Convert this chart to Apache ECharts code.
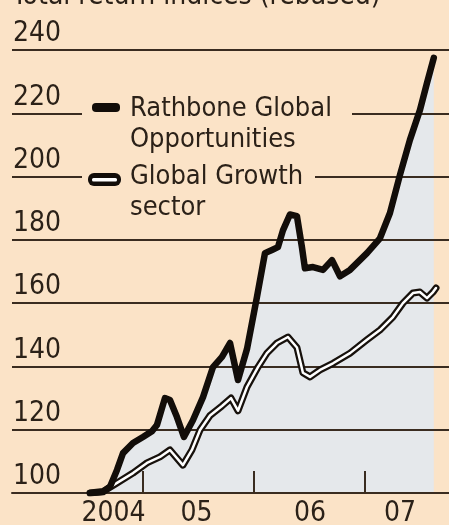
<!DOCTYPE html>
<html>
<head>
<meta charset="utf-8">
<script src="https://cdn.jsdelivr.net/npm/echarts@6/dist/echarts.min.js"></script>
<style>
html,body{margin:0;padding:0;background:#fbe3c7;}
#c{width:449px;height:525px;}
</style>
</head>
<body>
<div id="c"></div>
<script>
// ---- data ----
var titleText = 'Total return indices (rebased)';
var seriesNames = ['Rathbone Global\nOpportunities', 'Global Growth\nsector'];

var rathboneYears = [2004.523, 2004.640, 2004.703, 2004.766, 2004.820, 2004.910, 2005.000, 2005.081, 2005.126, 2005.198,
  2005.243, 2005.306, 2005.369, 2005.450, 2005.541, 2005.631, 2005.712, 2005.784, 2005.856, 2005.937,
  2006.027, 2006.099, 2006.162, 2006.216, 2006.261, 2006.324, 2006.387, 2006.432, 2006.459, 2006.532,
  2006.622, 2006.703, 2006.775, 2006.865, 2007.018, 2007.135, 2007.225, 2007.315, 2007.405, 2007.495,
  2007.559, 2007.620];
var rathboneValues = [100, 100.3, 102, 107.3, 112.6, 115.8, 117.7, 119.5, 121.5, 130,
  129.4, 124, 117.7, 123, 130.3, 139.8, 143, 147.4, 135.7, 145.5,
  162, 175.8, 176.8, 177.7, 183, 188, 187.5, 177.7, 171, 171.4,
  170.5, 173.6, 168.5, 170.5, 175.8, 180.5, 188.5, 200.5, 211.6, 221,
  229.6, 237.5];

var sectorYears = [2004.523, 2004.640, 2004.748, 2004.910, 2005.036, 2005.153, 2005.243, 2005.360, 2005.441, 2005.514,
  2005.604, 2005.712, 2005.793, 2005.856, 2005.937, 2006.036, 2006.117, 2006.207, 2006.306, 2006.387,
  2006.441, 2006.505, 2006.595, 2006.712, 2006.865, 2007.018, 2007.135, 2007.252, 2007.342, 2007.432,
  2007.495, 2007.559, 2007.613, 2007.640];
var sectorValues = [100, 100.5, 102.8, 106.3, 109.5, 111.4, 113.6, 108.8, 113.6, 119.9,
  124.5, 127.5, 130, 126, 133.5, 139.8, 144.2, 147.4, 149.3, 146,
  138, 136.7, 138.9, 141, 144.2, 148.4, 151.5, 155.6, 160, 163.2,
  163.5, 161.6, 163.5, 164.8];

var yTicks = [100, 120, 140, 160, 180, 200, 220, 240];
var xTickYears = [2005, 2006, 2007];
var xLabelYears = [2004.734, 2005.482, 2006.505, 2007.315];
var xLabelTexts = ['2004', '05', '06', '07'];

// ---- build ----
function pairs(xs, ys) { return xs.map(function (x, i) { return [x, ys[i]]; }); }
var rathbone = pairs(rathboneYears, rathboneValues);
var sector = pairs(sectorYears, sectorValues);

var INK = '#2b2118';
var GRID = '#3a2c20';
var BG = '#fbe3c7';
var FONT = '"DejaVu Sans Condensed", "DejaVu Sans", sans-serif';

var chart = echarts.init(document.getElementById('c'), null, {renderer: 'canvas'});
chart.setOption({
  animation: false,
  backgroundColor: BG,
  grid: {left: 12, right: 0, top: 50, bottom: 32, containLabel: false, outerBoundsMode: 'none'},
  xAxis: {
    type: 'value', min: 2003.82, max: 2007.757, z: 3,
    splitLine: {show: false},
    axisLine: {show: true, lineStyle: {color: GRID, width: 2}},
    axisTick: {show: true, inside: true, length: 22, customValues: xTickYears, lineStyle: {color: GRID, width: 2}},
    axisLabel: {
      show: true, customValues: xLabelYears, margin: 7,
      color: INK, fontSize: 28, fontFamily: FONT,
      formatter: function (v) {
        var best = 0, d = 1e9;
        xLabelYears.forEach(function (y, i) { if (Math.abs(y - v) < d) { d = Math.abs(y - v); best = i; } });
        return xLabelTexts[best];
      }
    }
  },
  yAxis: {
    type: 'value', min: yTicks[0], max: yTicks[yTicks.length - 1], interval: 20, z: 3,
    axisLine: {show: false}, axisTick: {show: false},
    splitLine: {show: true, lineStyle: {color: GRID, width: 2}},
    axisLabel: {
      show: true, inside: true, margin: 1, align: 'left', verticalAlign: 'bottom',
      padding: [0, 0, 2, 0],
      color: INK, fontSize: 28, fontFamily: FONT
    }
  },
  series: [
    {type: 'line', name: 'area', data: rathbone, showSymbol: false, silent: true, z: 1,
      lineStyle: {width: 0}, areaStyle: {color: '#e5e8eb', opacity: 1, origin: 'start'}},
    {type: 'line', name: seriesNames[1], data: sector, showSymbol: false, z: 5,
      lineStyle: {color: '#17110c', width: 7, join: 'round', cap: 'round'}},
    {type: 'line', name: seriesNames[1] + ' core', data: sector, showSymbol: false, z: 6,
      lineStyle: {color: '#ffffff', width: 2.5, join: 'round', cap: 'round'}},
    {type: 'line', name: seriesNames[0], data: rathbone, showSymbol: false, z: 7,
      lineStyle: {color: '#120d09', width: 6.5, join: 'round', cap: 'round'}}
  ],
  graphic: [
    {type: 'text', z: 100, style: {x: 12, y: -19, text: titleText, fill: INK, fontSize: 28, fontFamily: FONT, lineHeight: 31, verticalAlign: 'top'}},
    {type: 'rect', z: 100, shape: {x: 82, y: 104, width: 270, height: 17}, style: {fill: BG}},
    {type: 'rect', z: 100, shape: {x: 82, y: 168, width: 233, height: 17}, style: {fill: BG}},
    {type: 'rect', z: 101, shape: {x: 92, y: 103, width: 28, height: 9, r: 4}, style: {fill: '#120d09'}},
    {type: 'rect', z: 101, shape: {x: 88, y: 173, width: 33, height: 13, r: 6}, style: {fill: '#120d09'}},
    {type: 'rect', z: 102, shape: {x: 92, y: 178, width: 25, height: 3.5, r: 1.5}, style: {fill: '#ffffff'}},
    {type: 'text', z: 101, style: {x: 130, y: 93.5, text: seriesNames[0], fill: INK, fontSize: 27, fontFamily: FONT, lineHeight: 31, verticalAlign: 'top'}},
    {type: 'text', z: 101, style: {x: 130, y: 161.5, text: seriesNames[1], fill: INK, fontSize: 27, fontFamily: FONT, lineHeight: 31, verticalAlign: 'top'}}
  ]
});
</script>
</body>
</html>
